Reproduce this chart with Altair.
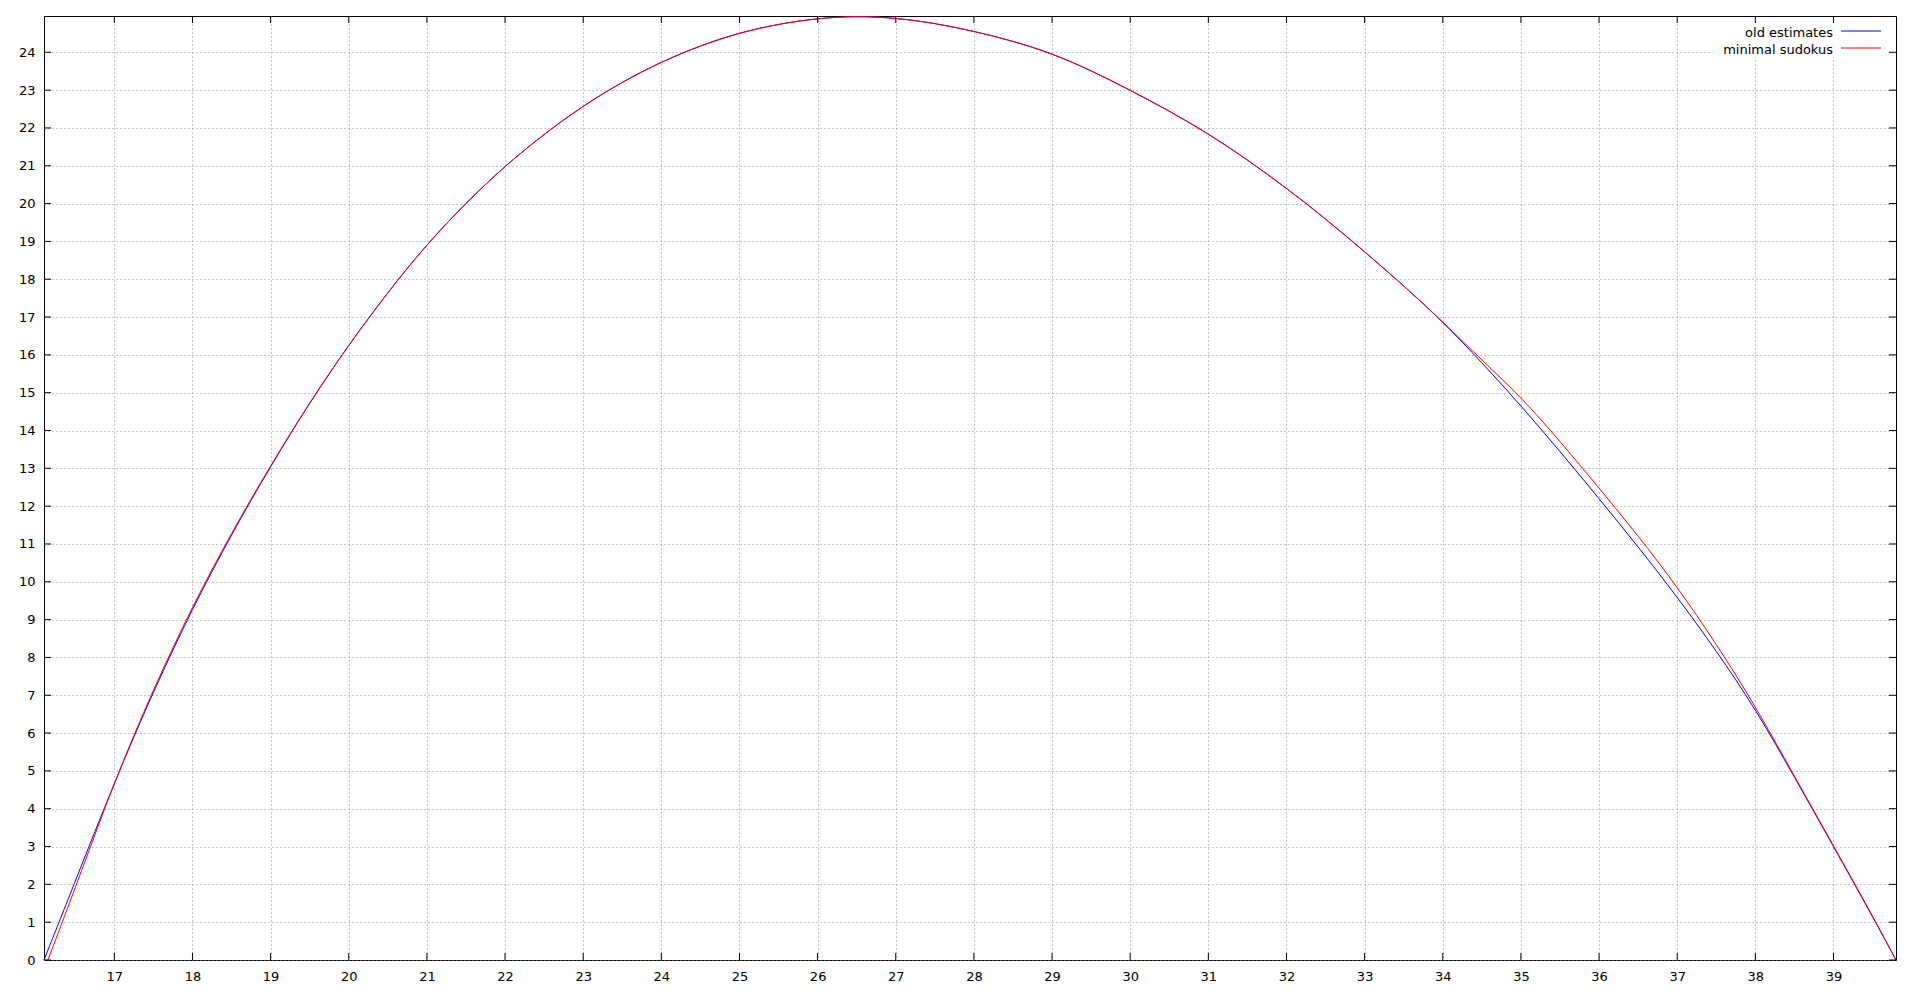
import altair as alt
import pandas as pd

# ---- data ----
x_old = [16.1, 16.5, 17.0, 17.5, 18.0, 18.5, 19.0, 19.5, 20.0, 20.5, 21.0, 21.5, 22.0, 22.5,
         23.0, 23.5, 24.0, 24.5, 25.0, 25.5, 26.0, 26.5, 27.0, 27.5, 28.0, 28.5, 29.0, 29.5,
         30.0, 30.5, 31.0, 31.5, 32.0, 32.5, 33.0, 33.5, 34.0, 34.5, 35.0, 35.5, 36.0, 36.5,
         37.0, 37.5, 38.0, 38.5, 39.0, 39.5, 39.8]
y_old = [0, 2.08, 4.7, 7.11, 9.3, 11.26, 13.06, 14.74, 16.27, 17.66, 18.93, 20.02, 21.0, 21.84,
         22.59, 23.22, 23.75, 24.18, 24.52, 24.75, 24.9, 24.96, 24.91, 24.77, 24.56, 24.3, 23.97, 23.52,
         23.0, 22.45, 21.85, 21.16, 20.41, 19.6, 18.73, 17.83, 16.88, 15.8, 14.66, 13.45, 12.2, 10.93,
         9.6, 8.18, 6.65, 4.84, 3.0, 1.15, 0]

x_min = [16.15, 16.5, 17.0, 17.5, 18.0, 18.5, 19.0, 19.5, 20.0, 20.5, 21.0, 21.5, 22.0, 22.5,
         23.0, 23.5, 24.0, 24.5, 25.0, 25.5, 26.0, 26.5, 27.0, 27.5, 28.0, 28.5, 29.0, 29.5,
         30.0, 30.5, 31.0, 31.5, 32.0, 32.5, 33.0, 33.5, 34.0, 34.5, 35.0, 35.5, 36.0, 36.5,
         37.0, 37.5, 38.0, 38.5, 39.0, 39.5, 39.8]
y_min = [0, 1.9, 4.72, 7.17, 9.36, 11.3, 13.08, 14.75, 16.27, 17.66, 18.93, 20.02, 21.0, 21.84,
         22.59, 23.22, 23.75, 24.18, 24.52, 24.75, 24.9, 24.96, 24.91, 24.77, 24.56, 24.3, 23.97, 23.52,
         23.0, 22.45, 21.85, 21.16, 20.41, 19.6, 18.73, 17.83, 16.88, 15.86, 14.89, 13.72, 12.48, 11.22,
         9.87, 8.36, 6.72, 4.86, 3.02, 1.17, 0]

series_names = ["old estimates", "minimal sudokus"]
series_colors = ["#0000ff", "#ff0000"]
x_ticks = list(range(17, 40))
y_ticks = list(range(0, 25))
x_domain = [16.1, 39.8]
y_domain = [0, 24.96]

W, H = 1852, 944
FONT = "DejaVu Sans"

df_old = pd.DataFrame({"x": x_old, "y": y_old})
df_min = pd.DataFrame({"x": x_min, "y": y_min})
df_xt = pd.DataFrame({"x": x_ticks})
df_yt = pd.DataFrame({"y": y_ticks})

xs = alt.Scale(domain=x_domain, nice=False, zero=False)
ys = alt.Scale(domain=y_domain, nice=False, zero=False)

grid_common = dict(grid=True, gridColor="#8c8c8c", gridDash=[1, 3], gridWidth=1,
                   domain=False, ticks=False, labelFont=FONT, labelFontSize=13,
                   labelColor="#000000", title=None, labelOverlap=False, labelFlush=False)

x_axis = alt.Axis(values=x_ticks, labelPadding=10, format="d", **grid_common)
y_axis = alt.Axis(values=y_ticks, labelPadding=9, format="d", **grid_common)

X = alt.X("x:Q", scale=xs, axis=x_axis)
Y = alt.Y("y:Q", scale=ys, axis=y_axis)

# white key box (opaque legend)
key_box = alt.Chart(pd.DataFrame({"k": [0]})).mark_rect(color="white").encode(
    x=alt.value(W - 183), x2=alt.value(W - 1), y=alt.value(1), y2=alt.value(41)
)

line_old = alt.Chart(df_old).mark_line(color=series_colors[0], strokeWidth=1,
                                       interpolate="basis").encode(x=X, y=Y)
line_min = alt.Chart(df_min).mark_line(color=series_colors[1], strokeWidth=1,
                                       interpolate="basis").encode(x=X, y=Y)

tick_style = dict(color="black", strokeWidth=1)
t_bottom = alt.Chart(df_xt).mark_rule(**tick_style).encode(
    x=X, y=alt.value(H - 7), y2=alt.value(H))
t_top = alt.Chart(df_xt).mark_rule(**tick_style).encode(
    x=X, y=alt.value(0), y2=alt.value(7))
t_left = alt.Chart(df_yt).mark_rule(**tick_style).encode(
    y=Y, x=alt.value(0), x2=alt.value(7))
t_right = alt.Chart(df_yt).mark_rule(**tick_style).encode(
    y=Y, x=alt.value(W - 7), x2=alt.value(W))

legend_layers = []
for i, (name, col) in enumerate(zip(series_names, series_colors)):
    d = pd.DataFrame({"label": [name]})
    ty = 21 + 17 * i
    ly = 15 + 17 * i
    legend_layers.append(
        alt.Chart(d).mark_text(align="right", baseline="alphabetic", font=FONT, fontSize=13,
                               color="black").encode(
            text="label:N", x=alt.value(1789), y=alt.value(ty))
    )
    legend_layers.append(
        alt.Chart(d).mark_rule(color=col, strokeWidth=1).encode(
            x=alt.value(1797), x2=alt.value(1837), y=alt.value(ly))
    )

chart = alt.layer(line_old, key_box, line_min, t_bottom, t_top, t_left, t_right, *legend_layers).properties(
    width=W, height=H,
    padding={"left": 36, "top": 8, "right": 16, "bottom": 26},
    autosize=alt.AutoSizeParams(type="none"),
    background="white",
).configure_view(stroke="black", strokeWidth=1).configure_axis(labelOverlap=False)

chart.save("out.html", embed_options={"renderer": "svg", "actions": False})
